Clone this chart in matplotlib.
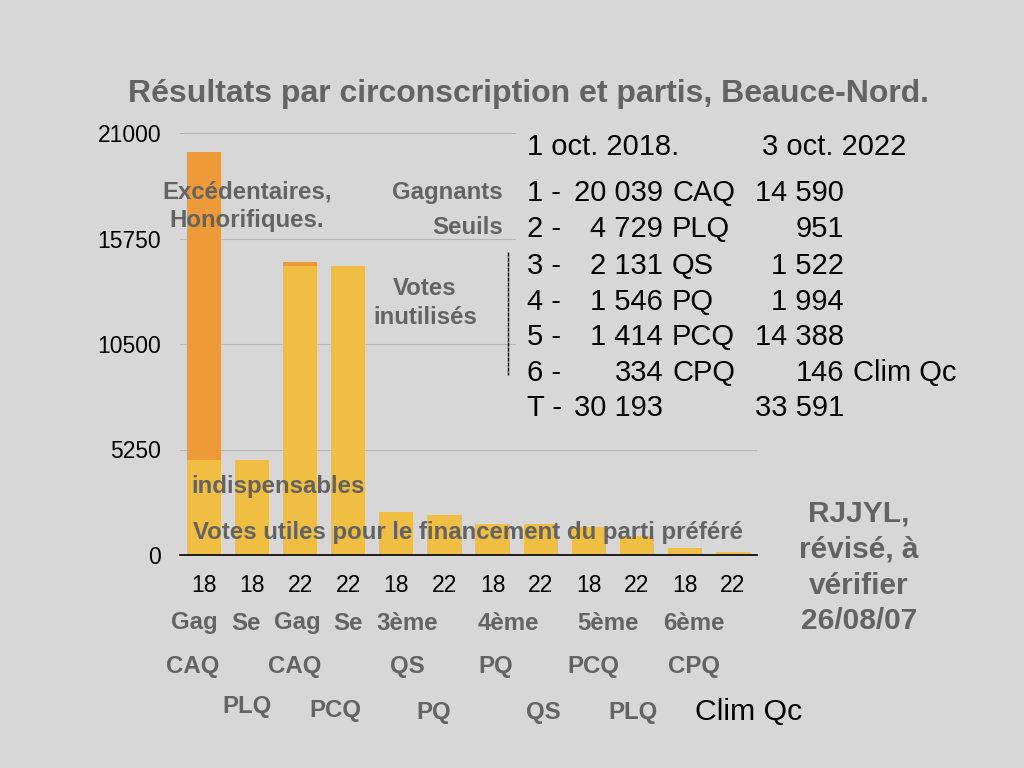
import matplotlib
matplotlib.use("Agg")
import matplotlib.pyplot as plt
import numpy as np

plt.rcParams['font.family'] = ['Liberation Sans', 'DejaVu Sans']

# data: results by party, 2018 ranking order
parties_18 = ["CAQ", "PLQ", "QS", "PQ", "PCQ", "CPQ"]
votes_18 = [20039, 4729, 2131, 1546, 1414, 334]
votes_22 = [14590, 951, 1522, 1994, 14388, 146]   # same parties in 2022, last one is Clim Qc
last_party_22 = "Clim Qc"

# bars (year, total votes, useful part)
bar_years = ["18", "18", "22", "22", "18", "22", "18", "22", "18", "22", "18", "22"]
bar_totals = [20039, 4729, 14590, 14388, 2131, 1994, 1546, 1522, 1414, 951, 334, 146]
bar_useful = [4729, 4729, 14388, 14388, 2131, 1994, 1546, 1522, 1414, 951, 334, 146]

yticks = [0, 5250, 10500, 15750, 21000]

rank_labels = ["Gag", "Se", "Gag", "Se", "3ème", "4ème", "5ème", "6ème"]
rank_x = [194, 246, 297, 348, 407, 508, 608, 694]
row2_labels = ["CAQ", "CAQ", "QS", "PQ", "PCQ", "CPQ"]
row2_x = [193, 295, 407, 496, 593, 694]
row3_labels = ["PLQ", "PCQ", "PQ", "QS", "PLQ"]
row3_x = [247, 335, 434, 543, 633]
row3_y = [706, 710, 713, 713, 713]

BG = "#d7d7d7"
YELLOW = "#efbe42"
ORANGE = "#ef9a39"
GREY = "#636363"

W, H = 1024, 768
fig = plt.figure(figsize=(W / 100, H / 100), dpi=100, facecolor=BG)
ax = fig.add_axes([180 / W, 1 - 555 / H, (757 - 180) / W, (555 - 133) / H])
ax.set_facecolor(BG)

x = np.arange(len(bar_totals))
useful = np.array(bar_useful)
extra = np.array(bar_totals) - useful
ax.bar(x, useful, width=0.71, color=YELLOW, zorder=2)
ax.bar(x, extra, bottom=useful, width=0.71, color=ORANGE, zorder=2)

ax.set_xlim(-0.5, len(x) - 0.5)
ax.set_ylim(0, 21000)
ax.set_yticks(yticks)
ax.set_yticklabels([str(v) for v in yticks], fontsize=16.5)
ax.set_xticks(x)
ax.set_xticklabels(bar_years, fontsize=16.5)
ax.tick_params(axis='y', length=0, pad=13.5)
ax.tick_params(axis='x', length=0, pad=14)
ax.grid(axis='y', color="#b5b5b5", linewidth=0.8, zorder=0)
for s in ["top", "right", "left"]:
    ax.spines[s].set_visible(False)
ax.spines["bottom"].set_color("black")
ax.spines["bottom"].set_linewidth(1.2)
ax.spines["bottom"].set_zorder(3)


def px(xp, yp):
    return xp / W, 1 - yp / H


def ftext(xp, yp, s, **kw):
    fig.text(*px(xp, yp), s, **kw)


# title
ftext(529, 94, "Résultats par circonscription et partis, Beauce-Nord.",
      ha="center", va="center", fontsize=23, fontweight="bold", color=GREY)

# annotations in the plot
bold = dict(fontweight="bold", color=GREY, fontsize=17.3, va="center", zorder=5)
ftext(247, 192, "Excédentaires,", ha="center", **bold)
ftext(247, 220, "Honorifiques.", ha="center", **bold)
ftext(503, 192, "Gagnants", ha="right", **bold)
ftext(503, 228, "Seuils", ha="right", **bold)
ftext(425, 289, "Votes", ha="center", **bold)
ftext(425, 318, "inutilisés", ha="center", **bold)
ftext(191, 487, "indispensables", ha="left", **bold)
ftext(193, 533, "Votes utiles pour le financement du parti préféré", ha="left", **bold)

# table box hides the grid lines behind it
fig.patches.append(plt.Rectangle(px(516, 432), (1000 - 516) / W, (432 - 125) / H,
                                 transform=fig.transFigure, facecolor=BG,
                                 edgecolor="none", zorder=1))
fig.add_artist(plt.Line2D([508 / W, 508 / W], [1 - 252 / H, 1 - 375 / H],
                          color="black", linewidth=1.0, linestyle=(0, (3, 0.6))))

tbl = dict(fontsize=21, color="black", va="center", zorder=5)
ftext(527, 147, "1 oct. 2018.", ha="left", **tbl)
ftext(762, 147, "3 oct. 2022", ha="left", **tbl)


def fmt(v):
    return f"{v:,}".replace(",", " ")


row_y = [193, 229, 266, 302, 337, 373]
for i, yp in enumerate(row_y):
    ftext(527, yp, f"{i + 1} -", ha="left", **tbl)
    ftext(663, yp, fmt(votes_18[i]), ha="right", **tbl)
    ftext(672, yp, parties_18[i], ha="left", **tbl)
    ftext(844, yp, fmt(votes_22[i]), ha="right", **tbl)
ftext(853, row_y[-1], last_party_22, ha="left", **tbl)
ftext(527, 408, "T -", ha="left", **tbl)
ftext(663, 408, fmt(sum(votes_18)), ha="right", **tbl)
ftext(844, 408, fmt(sum(votes_22)), ha="right", **tbl)

# category labels under the bars
for s, xp in zip(rank_labels, rank_x):
    ftext(xp, 623, s, ha="center", **bold)
for s, xp in zip(row2_labels, row2_x):
    ftext(xp, 667, s, ha="center", **bold)
for s, xp, yp in zip(row3_labels, row3_x, row3_y):
    ftext(xp, yp, s, ha="center", **bold)
ftext(695, 712, last_party_22, ha="left", fontsize=21.8, color="black", va="center")

# signature
sig = ["RJJYL,", "révisé, à", "vérifier", "26/08/07"]
for s, yp in zip(sig, [514, 550, 586, 621]):
    ftext(859, yp, s, ha="center", va="center", fontsize=21.5, fontweight="bold", color=GREY)

fig.savefig("out.png", dpi=100, facecolor=BG)
